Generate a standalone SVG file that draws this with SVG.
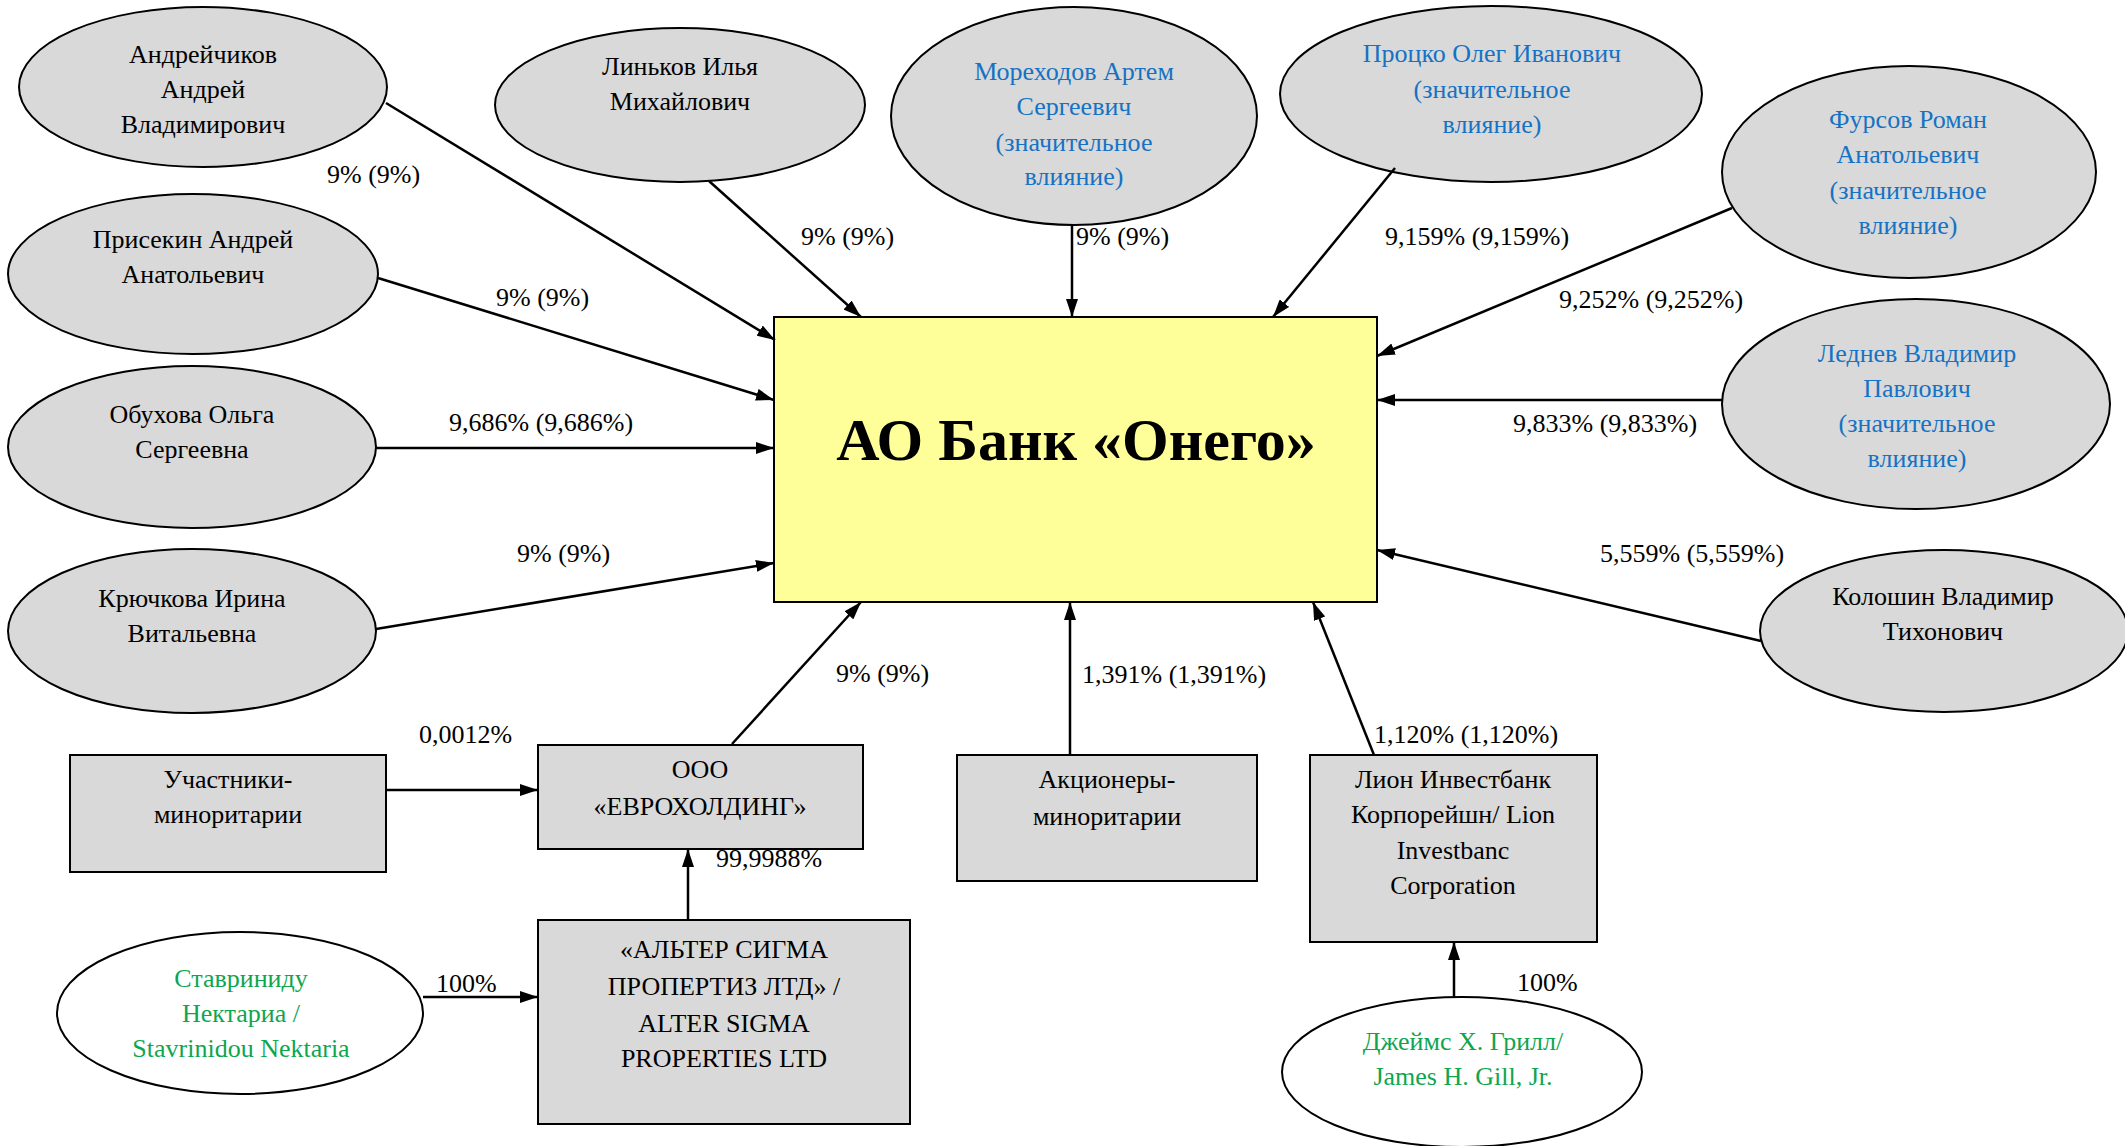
<svg xmlns="http://www.w3.org/2000/svg" width="2125" height="1146" viewBox="0 0 2125 1146">
<style>
.t{font-family:"Liberation Serif","Times New Roman",serif;font-size:26px;text-anchor:middle;fill:#000}
.l{font-family:"Liberation Serif","Times New Roman",serif;font-size:26px;fill:#000}
.b{fill:#1572C4}
.g{fill:#0DA64F}
.n{fill:#d9d9d9;stroke:#000;stroke-width:2}
.w{fill:#fff;stroke:#000;stroke-width:2}
.c line{stroke:#000;stroke-width:2.5;marker-end:url(#ah)}
</style>
<defs>
<marker id="ah" viewBox="0 0 18 12" refX="18" refY="6" markerWidth="18" markerHeight="12" markerUnits="userSpaceOnUse" orient="auto">
<path d="M0,0 L18,6 L0,12 z" fill="#000"/>
</marker>
</defs>
<rect width="2125" height="1146" fill="#fff"/>

<g id="main">
<rect x="774" y="317" width="603" height="285" fill="#ffff99" stroke="#000" stroke-width="2"/>
<text x="1076" y="460" class="t" style="font-size:60px;font-weight:bold">АО Банк «Онего»</text>
</g>

<g id="andreichikov"><ellipse cx="203" cy="87" rx="184" ry="80" class="n"/>
<text class="t" x="203" y="63">Андрейчиков</text><text class="t" x="203" y="98">Андрей</text><text class="t" x="203" y="133">Владимирович</text></g>

<g id="linkov"><ellipse cx="680" cy="105" rx="185" ry="77" class="n"/>
<text class="t" x="680" y="75">Линьков Илья</text><text class="t" x="680" y="110">Михайлович</text></g>

<g id="prisekin"><ellipse cx="193" cy="274" rx="185" ry="80" class="n"/>
<text class="t" x="193" y="248">Присекин Андрей</text><text class="t" x="193" y="283">Анатольевич</text></g>

<g id="obukhova"><ellipse cx="192" cy="447" rx="184" ry="81" class="n"/>
<text class="t" x="192" y="423">Обухова Ольга</text><text class="t" x="192" y="458">Сергеевна</text></g>

<g id="kryuchkova"><ellipse cx="192" cy="631" rx="184" ry="82" class="n"/>
<text class="t" x="192" y="607">Крючкова Ирина</text><text class="t" x="192" y="642">Витальевна</text></g>

<g id="morekhodov"><ellipse cx="1074" cy="116" rx="183" ry="109" class="n"/>
<text class="t b" x="1074" y="80">Мореходов Артем</text><text class="t b" x="1074" y="115">Сергеевич</text><text class="t b" x="1074" y="151">(значительное</text><text class="t b" x="1074" y="185">влияние)</text></g>

<g id="protsko"><ellipse cx="1491" cy="94" rx="211" ry="88" class="n"/>
<text class="t b" x="1492" y="62">Процко Олег Иванович</text><text class="t b" x="1492" y="98">(значительное</text><text class="t b" x="1492" y="133">влияние)</text></g>

<g id="fursov"><ellipse cx="1909" cy="172" rx="187" ry="106" class="n"/>
<text class="t b" x="1908" y="128">Фурсов Роман</text><text class="t b" x="1908" y="163">Анатольевич</text><text class="t b" x="1908" y="199">(значительное</text><text class="t b" x="1908" y="234">влияние)</text></g>

<g id="lednev"><ellipse cx="1916" cy="404" rx="194" ry="105" class="n"/>
<text class="t b" x="1917" y="362">Леднев Владимир</text><text class="t b" x="1917" y="397">Павлович</text><text class="t b" x="1917" y="432">(значительное</text><text class="t b" x="1917" y="467">влияние)</text></g>

<g id="koloshin"><ellipse cx="1944" cy="631" rx="184" ry="81" class="n"/>
<text class="t" x="1943" y="605">Колошин Владимир</text><text class="t" x="1943" y="640">Тихонович</text></g>

<g id="uchastniki"><rect x="70" y="755" width="316" height="117" class="n"/>
<text class="t" x="228" y="788">Участники-</text><text class="t" x="228" y="823">миноритарии</text></g>

<g id="euroholding"><rect x="538" y="745" width="325" height="104" class="n"/>
<text class="t" x="700" y="778">ООО</text><text class="t" x="700" y="815">«ЕВРОХОЛДИНГ»</text></g>

<g id="alter"><rect x="538" y="920" width="372" height="204" class="n"/>
<text class="t" x="724" y="958">«АЛЬТЕР СИГМА</text><text class="t" x="724" y="995">ПРОПЕРТИЗ ЛТД» /</text><text class="t" x="724" y="1032">ALTER SIGMA</text><text class="t" x="724" y="1067">PROPERTIES LTD</text></g>

<g id="stavrinidu"><ellipse cx="240" cy="1013" rx="183" ry="81" class="w"/>
<text class="t g" x="241" y="987">Ставриниду</text><text class="t g" x="241" y="1022">Нектариа /</text><text class="t g" x="241" y="1057">Stavrinidou Nektaria</text></g>

<g id="aktsionery"><rect x="957" y="755" width="300" height="126" class="n"/>
<text class="t" x="1107" y="788">Акционеры-</text><text class="t" x="1107" y="825">миноритарии</text></g>

<g id="lion"><rect x="1310" y="755" width="287" height="187" class="n"/>
<text class="t" x="1453" y="788">Лион Инвестбанк</text><text class="t" x="1453" y="823">Корпорейшн/ Lion</text><text class="t" x="1453" y="859">Investbanc</text><text class="t" x="1453" y="894">Corporation</text></g>

<g id="james"><ellipse cx="1462" cy="1072" rx="180" ry="75" class="w"/>
<text class="t g" x="1463" y="1050">Джеймс Х. Грилл/</text><text class="t g" x="1463" y="1085">James H. Gill, Jr.</text></g>

<g id="connectors" class="c">
<line x1="386" y1="103" x2="775" y2="340"/>
<line x1="709" y1="181" x2="861" y2="317"/>
<line x1="378" y1="278" x2="774" y2="400"/>
<line x1="376" y1="448" x2="774" y2="448"/>
<line x1="376" y1="629" x2="774" y2="563"/>
<line x1="1072" y1="225" x2="1072" y2="317"/>
<line x1="1395" y1="168" x2="1273" y2="317"/>
<line x1="1732" y1="208" x2="1377" y2="356"/>
<line x1="1722" y1="400" x2="1377" y2="400"/>
<line x1="1761" y1="641" x2="1377" y2="550"/>
<line x1="732" y1="744" x2="861" y2="602"/>
<line x1="1070" y1="755" x2="1070" y2="602"/>
<line x1="1374" y1="755" x2="1313" y2="602"/>
<line x1="386" y1="790" x2="538" y2="790"/>
<line x1="688" y1="920" x2="688" y2="849"/>
<line x1="423" y1="997" x2="538" y2="997"/>
<line x1="1454" y1="997" x2="1454" y2="942"/>
</g>

<g id="labels">
<text class="l" x="327" y="183">9% (9%)</text>
<text class="l" x="801" y="245">9% (9%)</text>
<text class="l" x="496" y="306">9% (9%)</text>
<text class="l" x="449" y="431">9,686% (9,686%)</text>
<text class="l" x="517" y="562">9% (9%)</text>
<text class="l" x="1076" y="245">9% (9%)</text>
<text class="l" x="1385" y="245">9,159% (9,159%)</text>
<text class="l" x="1559" y="308">9,252% (9,252%)</text>
<text class="l" x="1513" y="432">9,833% (9,833%)</text>
<text class="l" x="1600" y="562">5,559% (5,559%)</text>
<text class="l" x="836" y="682">9% (9%)</text>
<text class="l" x="1082" y="683">1,391% (1,391%)</text>
<text class="l" x="1374" y="743">1,120% (1,120%)</text>
<text class="l" x="419" y="743">0,0012%</text>
<text class="l" x="716" y="867">99,9988%</text>
<text class="l" x="436" y="992">100%</text>
<text class="l" x="1517" y="991">100%</text>
</g>
</svg>
